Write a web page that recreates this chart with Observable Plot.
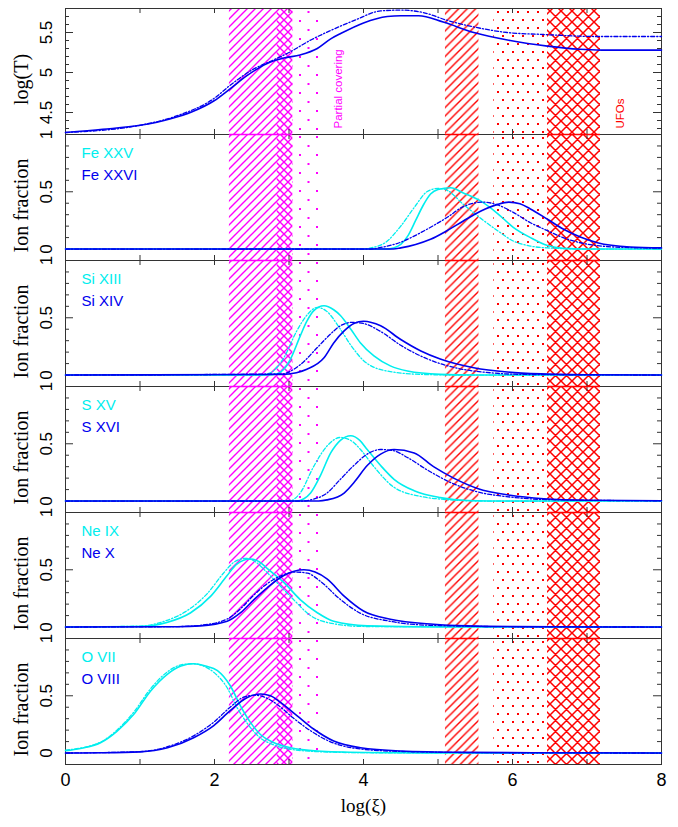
<!DOCTYPE html>
<html><head><meta charset="utf-8">
<script src="https://cdn.jsdelivr.net/npm/d3@7"></script>
<script src="https://cdn.jsdelivr.net/npm/@observablehq/plot@0.6"></script>
<style>
body{margin:0;background:#fff;}
#chart{position:relative;width:678px;}
#chart svg{display:block;overflow:visible;background:transparent;}
</style></head><body><div id="chart"></div>
<script>
// ---------- data ----------
const xTickValues = [0,1,2,3,4,5,6,7,8];
const xTickLabels = [0,2,4,6,8];
const xTitle = "log(ξ)";

// shaded regions (log xi)
const regionStart   = [2.2, 2.84, 3.05, 5.1, 5.75, 6.47];
const regionEnd     = [3.05, 3.05, 3.4, 5.55, 6.46, 7.18];
const regionPattern = ["hatch", "backhatch", "dots", "hatch", "dots", "cross"];
const regionColor   = ["#ff00ff", "#ff00ff", "#ff00ff", "#ff0000", "#ff0000", "#ff0000"];

// annotations in top panel
const annLabels = ["Partial covering", "UFOs"];
const annX = [3.66, 7.45];
const annY = [4.3, 4.3];
const annColor = ["#ff00ff", "#ff0000"];

// top panel: log(T)
const tempMajor = [4.5, 5, 5.5];
const tempMinor = [4.3,4.4,4.6,4.7,4.8,4.9,5.1,5.2,5.3,5.4,5.6,5.7];
const tempLabels = ["4.5", "5", "5.5"];
const logTSolid = [[0,4.25],[0.5,4.29],[1,4.34],[1.4,4.42],[1.7,4.51],[2,4.65],[2.2,4.79],[2.45,4.97],[2.7,5.11],[2.93,5.18],[3.15,5.22],[3.38,5.3],[3.56,5.42],[3.7,5.49],[4.0,5.62],[4.32,5.7],[4.5,5.71],[4.74,5.71],[5.07,5.63],[5.48,5.5],[5.97,5.4],[6.47,5.33],[6.9,5.29],[7.2,5.28],[8,5.28]];
const logTDash  = [[0,4.25],[1,4.34],[1.5,4.46],[2,4.68],[2.21,4.84],[2.5,5.03],[2.8,5.16],[3.0,5.25],[3.3,5.41],[3.56,5.525],[3.9,5.66],[4.23,5.77],[4.5,5.78],[4.8,5.75],[5.13,5.65],[5.48,5.57],[5.93,5.5],[6.42,5.475],[7.14,5.45],[8,5.45]];

// ion fraction panels
const ionMajor = [0, 0.5, 1];
const ionMinor = [0.1,0.2,0.3,0.4,0.6,0.7,0.8,0.9];
const ionLabels = ["0", "0.5", "1"];

const feXXV   = [[0,0],[4.3,0],[4.4,0.01],[4.5,0.04],[4.6,0.12],[4.7,0.25],[4.8,0.38],[4.9,0.48],[5.0,0.52],[5.17,0.535],[5.34,0.49],[5.57,0.42],[5.8,0.31],[6.01,0.19],[6.24,0.1],[6.47,0.03],[6.68,0.006],[7,0],[8,0]];
const feXXVd  = [[0,0],[4.0,0],[4.1,0.01],[4.3,0.06],[4.5,0.2],[4.7,0.38],[4.85,0.5],[5.0,0.53],[5.13,0.51],[5.34,0.39],[5.57,0.27],[5.8,0.16],[6.01,0.07],[6.24,0.026],[6.47,0.01],[7,0],[8,0]];
const feXXVI  = [[0,0],[4.4,0],[4.5,0.01],[4.7,0.04],[4.9,0.085],[5.12,0.16],[5.34,0.245],[5.57,0.33],[5.8,0.39],[5.95,0.41],[6.1,0.395],[6.24,0.35],[6.47,0.26],[6.68,0.175],[6.91,0.105],[7.14,0.055],[7.58,0.018],[8,0.01]];
const feXXVId = [[0,0],[4.1,0],[4.2,0.01],[4.5,0.06],[4.7,0.12],[4.9,0.19],[5.12,0.275],[5.34,0.37],[5.61,0.41],[5.8,0.385],[6.01,0.32],[6.24,0.23],[6.47,0.16],[6.68,0.1],[6.91,0.055],[7.14,0.03],[7.6,0.012],[8,0.008]];

const siXIII   = [[0,0],[2.7,0],[2.84,0.01],[2.93,0.05],[3.02,0.14],[3.15,0.34],[3.24,0.47],[3.33,0.56],[3.47,0.605],[3.6,0.57],[3.69,0.52],[3.83,0.4],[3.96,0.28],[4.14,0.167],[4.36,0.08],[4.59,0.035],[5.03,0.006],[5.5,0],[8,0]];
const siXIIId  = [[0,0],[2.6,0],[2.75,0.02],[2.93,0.15],[3.1,0.38],[3.25,0.53],[3.38,0.59],[3.5,0.56],[3.69,0.4],[3.83,0.26],[4.05,0.1],[4.36,0.03],[4.8,0.005],[5.3,0],[8,0]];
const siXIV    = [[0,0],[2.9,0.005],[3.1,0.02],[3.24,0.05],[3.47,0.15],[3.6,0.28],[3.74,0.385],[3.87,0.45],[4.0,0.47],[4.23,0.43],[4.5,0.31],[4.77,0.21],[5.03,0.14],[5.48,0.064],[5.93,0.026],[6.38,0.01],[7,0.003],[8,0]];
const siXIVd   = [[0,0],[2.9,0.01],[3.15,0.09],[3.38,0.24],[3.56,0.36],[3.69,0.43],[3.85,0.46],[4.0,0.45],[4.23,0.38],[4.5,0.26],[4.86,0.14],[5.26,0.06],[5.7,0.02],[6.2,0.005],[8,0]];

const sXV   = [[0,0],[3.1,0],[3.2,0.02],[3.29,0.07],[3.42,0.22],[3.56,0.42],[3.69,0.53],[3.83,0.57],[3.95,0.53],[4.05,0.45],[4.23,0.31],[4.41,0.19],[4.68,0.09],[5.03,0.03],[5.39,0.005],[6,0],[8,0]];
const sXVd  = [[0,0],[3.0,0],[3.15,0.07],[3.33,0.3],[3.51,0.48],[3.69,0.555],[3.85,0.52],[3.96,0.45],[4.14,0.3],[4.41,0.12],[4.77,0.04],[5.07,0.015],[5.6,0],[8,0]];
const sXVI  = [[0,0],[3.4,0],[3.51,0.01],[3.74,0.07],[3.87,0.16],[4.05,0.31],[4.23,0.41],[4.41,0.45],[4.68,0.42],[4.94,0.3],[5.21,0.2],[5.53,0.11],[5.97,0.05],[6.42,0.02],[7,0.007],[8,0.003]];
const sXVId = [[0,0],[3.2,0],[3.29,0.01],[3.51,0.07],[3.69,0.19],[3.87,0.31],[4.05,0.41],[4.23,0.45],[4.4,0.44],[4.59,0.38],[4.86,0.27],[5.21,0.15],[5.53,0.08],[5.97,0.035],[6.5,0.012],[8,0.002]];

const neIX   = [[0,0],[1.0,0.005],[1.36,0.04],[1.68,0.125],[1.95,0.27],[2.17,0.45],[2.3,0.55],[2.48,0.594],[2.6,0.57],[2.71,0.51],[2.93,0.39],[3.15,0.24],[3.38,0.125],[3.6,0.05],[4.05,0.01],[5,0],[8,0]];
const neIXd  = [[0,0],[1.0,0.008],[1.3,0.045],[1.6,0.13],[1.9,0.29],[2.12,0.47],[2.27,0.57],[2.42,0.6],[2.55,0.57],[2.62,0.53],[2.85,0.38],[3.06,0.24],[3.29,0.1],[3.55,0.035],[4,0.005],[8,0]];
const neX    = [[0,0],[1.5,0.003],[1.81,0.01],[2.17,0.05],[2.35,0.125],[2.53,0.24],[2.71,0.345],[2.93,0.45],[3.2,0.5],[3.35,0.48],[3.51,0.42],[3.74,0.27],[4.0,0.14],[4.36,0.068],[4.94,0.024],[5.39,0.01],[6,0.004],[8,0]];
const neXd   = [[0,0],[1.5,0.004],[1.81,0.015],[2.17,0.07],[2.35,0.16],[2.53,0.28],[2.71,0.38],[2.9,0.45],[3.1,0.48],[3.25,0.47],[3.42,0.4],[3.69,0.24],[3.96,0.12],[4.36,0.05],[4.9,0.015],[6,0.003],[8,0]];

const oVII   = [[0,0.02],[0.2,0.04],[0.47,0.09],[0.69,0.19],[0.92,0.34],[1.14,0.54],[1.37,0.69],[1.55,0.76],[1.72,0.78],[1.88,0.76],[2.04,0.72],[2.21,0.59],[2.35,0.41],[2.48,0.27],[2.62,0.16],[2.8,0.09],[3.02,0.046],[3.38,0.018],[4.05,0.005],[5,0],[8,0]];
const oVIId  = [[0,0.025],[0.47,0.095],[0.69,0.2],[0.92,0.36],[1.14,0.56],[1.37,0.71],[1.55,0.77],[1.7,0.78],[1.85,0.76],[2.0,0.7],[2.17,0.57],[2.3,0.4],[2.45,0.25],[2.6,0.14],[2.8,0.07],[3.0,0.035],[3.4,0.012],[4,0.003],[8,0]];
const oVIII  = [[0,0],[0.5,0.002],[1.0,0.01],[1.37,0.046],[1.72,0.134],[1.99,0.24],[2.21,0.37],[2.44,0.485],[2.62,0.515],[2.75,0.5],[2.89,0.44],[3.11,0.325],[3.33,0.21],[3.6,0.105],[3.96,0.046],[4.5,0.018],[5.39,0.006],[6.5,0.002],[8,0]];
const oVIIId = [[0,0],[1.0,0.012],[1.37,0.055],[1.72,0.15],[1.99,0.27],[2.21,0.4],[2.4,0.49],[2.55,0.505],[2.7,0.48],[2.85,0.42],[3.05,0.31],[3.3,0.19],[3.55,0.1],[3.9,0.04],[4.5,0.014],[5.5,0.004],[8,0]];

const ionNames = [["Fe XXV","Fe XXVI"],["Si XIII","Si XIV"],["S XV","S XVI"],["Ne IX","Ne X"],["O VII","O VIII"]];
const ionLow  = [[feXXV, feXXVd],[siXIII, siXIIId],[sXV, sXVd],[neIX, neIXd],[oVII, oVIId]];
const ionHigh = [[feXXVI, feXXVId],[siXIV, siXIVd],[sXVI, sXVId],[neX, neXd],[oVIII, oVIIId]];

// ---------- styling ----------
const CYAN = "#00eeee", BLUE = "#0000ee", AXIS = "#333";
const W = 678, ML = 65, MR = 17, FW = W - ML - MR, FH = 126;
const SANS = "Liberation Sans, Arial, Helvetica, sans-serif";
const SERIF = "Liberation Serif, Times New Roman, serif";
const DASH = "4,2,1.2,2";

const regions = regionStart.map((s, i) => ({x1: s, x2: regionEnd[i], pattern: regionPattern[i], color: regionColor[i], id: i}));

function defsMark() {
  const defs = d3.create("svg:defs");
  regions.forEach(r => {
    const c = r.color;
    const pat = defs.append("pattern").attr("id", "pat" + r.id).attr("patternUnits", "userSpaceOnUse");
    if (r.pattern === "hatch" || r.pattern === "backhatch") {
      const s = r.color === "#ff0000" ? 8.5 : 8;
      pat.attr("width", s).attr("height", s);
      const d = r.pattern === "hatch"
        ? `M${-s/2},${s/2}L${s/2},${-s/2}M0,${s}L${s},0M${s/2},${1.5*s}L${1.5*s},${s/2}`
        : `M${-s/2},${s/2}L${s/2},${1.5*s}M0,0L${s},${s}M${s/2},${-s/2}L${1.5*s},${s/2}`;
      pat.append("path").attr("d", d).attr("stroke", c).attr("stroke-width", 1.4).attr("fill", "none");
    } else if (r.pattern === "cross") {
      const s = 11;
      pat.attr("width", s).attr("height", s);
      pat.append("path").attr("d", `M${-s/2},${s/2}L${s/2},${-s/2}M0,${s}L${s},0M${s/2},${1.5*s}L${1.5*s},${s/2}M${-s/2},${s/2}L${s/2},${1.5*s}M0,0L${s},${s}M${s/2},${-s/2}L${1.5*s},${s/2}`)
        .attr("stroke", c).attr("stroke-width", 1.5).attr("fill", "none");
    } else {
      const magenta = r.color === "#ff00ff";
      const w = magenta ? 17 : 10, h = magenta ? 18 : 16;
      pat.attr("width", w).attr("height", h);
      const pts = magenta ? [[10, 2], [1.5, 11]] : [[2, 3], [7, 11]];
      pts.forEach(([px, py]) => pat.append("rect").attr("x", px).attr("y", py).attr("width", 2).attr("height", 2).attr("fill", c));
    }
  });
  return defs.node();
}

function frameMarks(yMajor, yMinor) {
  return [
    ...regions.map(r => Plot.rect([r], {x1: "x1", x2: "x2", fill: `url(#pat${r.id})`})),
    Plot.ruleX(xTickValues, {x: d => d, insetTop: FH - 5, stroke: AXIS}),
    Plot.ruleX(xTickValues, {x: d => d, insetBottom: FH - 5, stroke: AXIS}),
    Plot.ruleY(yMinor, {y: d => d, insetRight: FW - 4, stroke: AXIS}),
    Plot.ruleY(yMinor, {y: d => d, insetLeft: FW - 4, stroke: AXIS}),
    Plot.ruleY(yMajor, {y: d => d, insetRight: FW - 8, stroke: AXIS}),
    Plot.ruleY(yMajor, {y: d => d, insetLeft: FW - 8, stroke: AXIS}),
    Plot.frame({stroke: AXIS})
  ];
}

function yLabelMarks(values, labels, title) {
  return [
    Plot.text(values, {y: d => d, text: (d, i) => labels[i], frameAnchor: "left", dx: -19, rotate: -90,
      textAnchor: "middle", lineAnchor: "middle", fontSize: 17, fontFamily: SANS, fill: "#000"}),
    Plot.text([title], {text: d => d, frameAnchor: "left", dx: -44, dy: 8, rotate: -90,
      textAnchor: "middle", lineAnchor: "middle", fontSize: 20, fontFamily: SERIF, fill: "#000"})
  ];
}

function lineMarks(solid, dashed, color) {
  return [
    Plot.line(dashed, {x: d => d[0], y: d => d[1], stroke: color, strokeWidth: 1.3, strokeDasharray: DASH, curve: "monotone-x"}),
    Plot.line(solid, {x: d => d[0], y: d => d[1], stroke: color, strokeWidth: 1.6, curve: "monotone-x"})
  ];
}

function makePlot(height, marginTop, marginBottom, yDomain, marks) {
  return Plot.plot({
    width: W, height, marginLeft: ML, marginRight: MR, marginTop, marginBottom,
    x: {domain: [0, 8], axis: null},
    y: {domain: yDomain, axis: null},
    style: {overflow: "visible", background: "transparent", fontFamily: SANS},
    marks
  });
}

const chart = document.getElementById("chart");

// top panel
chart.append(makePlot(FH + 8, 8, 0, [4.225, 5.8], [
  defsMark,
  ...frameMarks(tempMajor, tempMinor),
  ...lineMarks(logTSolid, logTDash, BLUE),
  Plot.text(annLabels, {x: (d, i) => annX[i], y: (d, i) => annY[i], text: d => d, fill: (d, i) => annColor[i],
    rotate: -90, textAnchor: "start", lineAnchor: "middle", fontSize: 11.5, fontFamily: SANS}),
  ...yLabelMarks(tempMajor, tempLabels, "log(T)")
]));

// ion panels
ionNames.forEach((names, k) => {
  const last = k === ionNames.length - 1;
  const marks = [
    ...frameMarks(ionMajor, ionMinor),
    Plot.ruleY(regions.filter(r => r.pattern !== "dots" && r.pattern !== "backhatch"),
      {y: 1, x1: "x1", x2: "x2", stroke: d => d.color, strokeWidth: 1.5}),
    ...lineMarks(ionLow[k][0], ionLow[k][1], CYAN),
    ...lineMarks(ionHigh[k][0], ionHigh[k][1], BLUE),
    Plot.text([names[0]], {text: d => d, frameAnchor: "top-left", dx: 16, dy: 19, textAnchor: "start", lineAnchor: "middle", fill: CYAN, fontSize: 15, fontFamily: SANS}),
    Plot.text([names[1]], {text: d => d, frameAnchor: "top-left", dx: 16, dy: 41, textAnchor: "start", lineAnchor: "middle", fill: BLUE, fontSize: 15, fontFamily: SANS}),
    ...yLabelMarks(ionMajor, ionLabels, "Ion fraction")
  ];
  if (last) {
    marks.push(
      Plot.text(xTickLabels, {x: d => d, text: d => String(d), frameAnchor: "bottom", lineAnchor: "top", dy: 9, fontSize: 18, fontFamily: SANS, fill: "#000"}),
      Plot.text([xTitle], {text: d => d, frameAnchor: "bottom", lineAnchor: "middle", dy: 41, fontSize: 19, fontFamily: SERIF, fill: "#000"})
    );
  }
  chart.append(makePlot(last ? FH + 63 : FH, 0, last ? 63 : 0, [-0.1, 1], marks));
});
</script></body></html>
